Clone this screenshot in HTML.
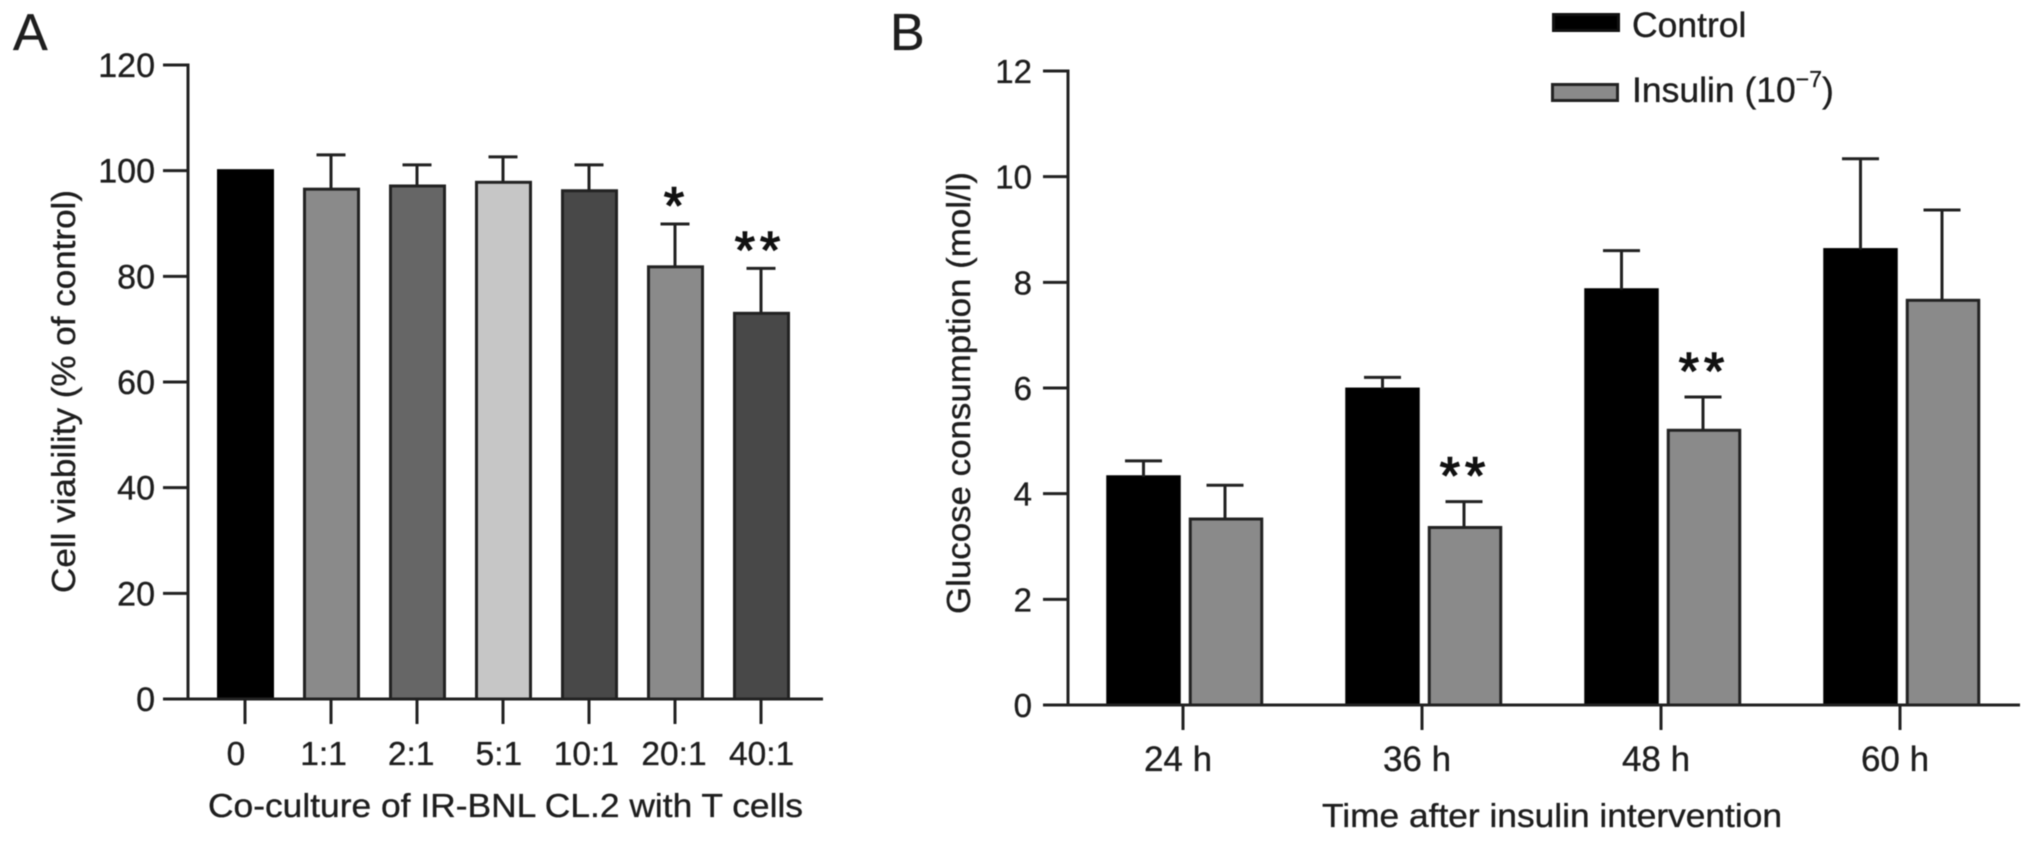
<!DOCTYPE html>
<html lang="en">
<head>
<meta charset="utf-8">
<title>Cell viability and glucose consumption</title>
<style>
  html, body { margin: 0; padding: 0; background: #fff; }
  body { width: 2032px; height: 841px; overflow: hidden; }
  svg { display: block; filter: blur(0.6px); }
  text { font-family: "Liberation Sans", Arial, sans-serif; fill: #1e1e1e; stroke: #1e1e1e; stroke-width: 0.35px; }
</style>
</head>
<body>
<svg id="figure" xmlns="http://www.w3.org/2000/svg" width="2032" height="841" viewBox="0 0 2032 841">
  <rect x="0" y="0" width="2032" height="841" fill="#fff"/>
  <text x="13" y="50" font-size="52">A</text>
  <text x="890" y="50" font-size="52">B</text>
  <g id="panelA"></g>
  <g id="panelB"></g>
  <text transform="translate(75,391.5) rotate(-90)" text-anchor="middle" font-size="33" textLength="403" lengthAdjust="spacingAndGlyphs">Cell viability (% of control)</text>
  <text x="208" y="817" font-size="33" textLength="595" lengthAdjust="spacingAndGlyphs">Co-culture of IR-BNL CL.2 with T cells</text>
  <text transform="translate(970,393) rotate(-90)" text-anchor="middle" font-size="33" textLength="442" lengthAdjust="spacingAndGlyphs">Glucose consumption (mol/l)</text>
  <text x="1322" y="827" font-size="33" textLength="460" lengthAdjust="spacingAndGlyphs">Time after insulin intervention</text>
  <g>
    <rect x="1553.5" y="14.5" width="65" height="16" fill="#000" stroke="#111" stroke-width="3"/>
    <text x="1632" y="37" font-size="35.5">Control</text>
    <rect x="1552.5" y="84.5" width="65" height="16" fill="#8a8a8a" stroke="#222" stroke-width="3"/>
    <text x="1632" y="102" font-size="35.5">Insulin (10<tspan font-size="23" dy="-15">−7</tspan><tspan dy="15">)</tspan></text>
  </g>
</svg>
<script>
// Panel A data
const categoriesA = ['0', '1:1', '2:1', '5:1', '10:1', '20:1', '40:1'];
const viabilityValues = [100, 96.5, 97.1, 97.8, 96.2, 81.8, 73];
const viabilityErrorTops = [null, 103, 101.1, 102.6, 101.1, 89.9, 81.5];
const viabilityFills = ['#000000', '#8a8a8a', '#666666', '#c6c6c6', '#484848', '#8a8a8a', '#484848'];
const viabilityStars = ['', '', '', '', '', '*', '**'];
const yTicksA = [0, 20, 40, 60, 80, 100, 120];

// Panel B data
const categoriesB = ['24 h', '36 h', '48 h', '60 h'];
const controlValues = [4.32, 5.98, 7.86, 8.62];
const controlErrorTops = [4.62, 6.2, 8.6, 10.34];
const insulinValues = [3.52, 3.36, 5.2, 7.66];
const insulinErrorTops = [4.16, 3.85, 5.83, 9.37];
const insulinStars = ['', '**', '**', ''];
const yTicksB = [0, 2, 4, 6, 8, 10, 12];

const SVG_NS = 'http://www.w3.org/2000/svg';
function make(tag, attrs, parent, content) {
  const node = document.createElementNS(SVG_NS, tag);
  for (const key in attrs) node.setAttribute(key, attrs[key]);
  if (content !== undefined) node.textContent = content;
  parent.appendChild(node);
  return node;
}

const INK = '#222';

// Axis functions
const yA = v => 699 - v * (634 / 120);
const xA = i => 245 + 86 * i;
const labelXA = i => 236 + 87.6 * i;
const yB = v => 705 - v * (634 / 12);
const xB = i => 1183 + 239 * i;
const labelXB = i => xB(i) - 5;

function drawErrorBar(parent, cx, yFrom, yTo, capWidth) {
  const stem = make('line', { x1: cx, x2: cx, y1: yFrom, y2: yTo, stroke: INK, 'stroke-width': 3 }, parent);
  
  
  const cap = make('line', { x1: cx - capWidth / 2, x2: cx + capWidth / 2, y1: yTo, y2: yTo, stroke: INK, 'stroke-width': 3 }, parent);
  
  
}

function drawStars(parent, cx, capY, label, offset) {
  if (!label) return;
  const star = make('text', { x: cx, y: capY - offset + 25, 'text-anchor': 'middle', 'font-size': 52, 'letter-spacing': label.length > 1 ? 5 : 0, style: 'fill:#111;stroke:#111;stroke-width:1.4px' }, parent, label);
  
  
}

function drawYAxis(parent, ticks, y, axisX, tickLeft, labelRight, fontSize) {
  ticks.forEach(t => {
    const tick = make('line', { x1: tickLeft, x2: axisX, y1: y(t), y2: y(t), stroke: INK, 'stroke-width': 3 }, parent);
    
    
    const label = make('text', { x: labelRight, y: y(t) + 12, 'text-anchor': 'end', 'font-size': fontSize }, parent, String(t));
    
    
  });
  const top = y(ticks[ticks.length - 1]);
  const axis = make('line', { x1: axisX, x2: axisX, y1: top - 1.5, y2: y(0) + 1.5, stroke: INK, 'stroke-width': 3 }, parent);
  
  
}

// Panel A
const panelA = document.getElementById('panelA');
categoriesA.forEach((cat, i) => {
  const cx = xA(i) + 0.5;
  const barWidth = 54;
  const bar = make('rect', {
    x: cx - barWidth / 2, y: yA(viabilityValues[i]), width: barWidth, height: yA(0) - yA(viabilityValues[i]),
    fill: viabilityFills[i], stroke: i === 0 ? '#000' : '#222', 'stroke-width': 3
  }, panelA);
  
  
  const errorTop = viabilityErrorTops[i];
  if (errorTop !== null) {
    drawErrorBar(panelA, xA(i), yA(viabilityValues[i]), yA(errorTop), 29);
    drawStars(panelA, xA(i) - 1, yA(errorTop), viabilityStars[i], 25.5);
  }
  const tick = make('line', { x1: xA(i), x2: xA(i), y1: yA(0), y2: 724, stroke: INK, 'stroke-width': 3 }, panelA);
  
  
  const label = make('text', { x: labelXA(i), y: 765, 'text-anchor': 'middle', 'font-size': 33.5 }, panelA, cat);
  
  
});
drawYAxis(panelA, yTicksA, yA, 188, 163, 155, 34);
const xAxisA = make('line', { x1: 163, x2: 823, y1: yA(0), y2: yA(0), stroke: INK, 'stroke-width': 3 }, panelA);



// Panel B
const panelB = document.getElementById('panelB');
categoriesB.forEach((cat, i) => {
  const tickX = xB(i);
  const controlX = tickX - 39.5;
  const insulinX = tickX + 43;
  const barWidth = 71.5;
  const controlBar = make('rect', {
    x: controlX - barWidth / 2, y: yB(controlValues[i]), width: barWidth, height: yB(0) - yB(controlValues[i]),
    fill: '#000', stroke: '#000', 'stroke-width': 3
  }, panelB);
  
  
  const insulinBar = make('rect', {
    x: insulinX - barWidth / 2, y: yB(insulinValues[i]), width: barWidth, height: yB(0) - yB(insulinValues[i]),
    fill: '#8a8a8a', stroke: '#222', 'stroke-width': 3
  }, panelB);
  
  
  drawErrorBar(panelB, controlX, yB(controlValues[i]), yB(controlErrorTops[i]), 37);
  drawErrorBar(panelB, insulinX - 1, yB(insulinValues[i]), yB(insulinErrorTops[i]), 37);
  drawStars(panelB, insulinX, yB(insulinErrorTops[i]), insulinStars[i], 33);
  const tick = make('line', { x1: tickX, x2: tickX, y1: yB(0), y2: 730, stroke: INK, 'stroke-width': 3 }, panelB);
  
  
  const label = make('text', { x: labelXB(i), y: 771, 'text-anchor': 'middle', 'font-size': 35 }, panelB, cat);
  
  
});
drawYAxis(panelB, yTicksB, yB, 1068, 1043, 1032, 33);
const xAxisB = make('line', { x1: 1043, x2: 2020, y1: yB(0), y2: yB(0), stroke: INK, 'stroke-width': 3 }, panelB);


</script>
</body>
</html>
